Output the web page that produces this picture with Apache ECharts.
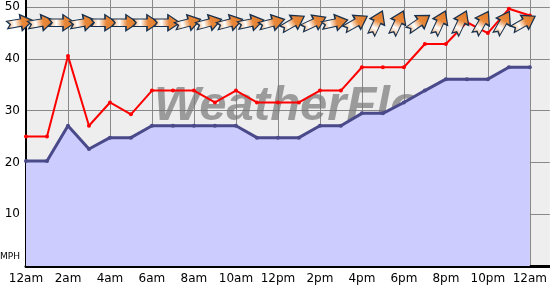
<!DOCTYPE html>
<html>
<head>
<meta charset="utf-8">
<script src="https://cdn.jsdelivr.net/npm/echarts@6/dist/echarts.min.js"></script>
<style>
html,body{margin:0;padding:0;background:#fff;}
#chart{width:550px;height:285px;}
</style>
</head>
<body>
<div id="chart"></div>
<script>
// ---- data ----
var hours = [0,1,2,3,4,5,6,7,8,9,10,11,12,13,14,15,16,17,18,19,20,21,22,23,24];
var tickLabels = ['12am','2am','4am','6am','8am','10am','12pm','2pm','4pm','6pm','8pm','10pm','12am'];
var yTickLabels = ['MPH','10','20','30','40','50'];
var avgWind = [20.3,20.3,27.1,22.6,24.8,24.8,27.1,27.1,27.1,27.1,27.1,24.8,24.8,24.8,27.1,27.1,29.5,29.5,31.6,33.9,36.1,36.1,36.1,38.4,38.4];
var gustWind = [25.0,25.0,40.6,27.1,31.6,29.3,33.9,33.9,33.9,31.6,33.9,31.6,31.6,31.6,33.9,33.9,38.4,38.4,38.4,42.9,42.9,47.1,45.0,49.7,48.4];
var windDir = [260,260,270,260,270,270,270,270,255,255,255,258,255,240,245,258,240,205,205,235,205,205,210,210,240];

var chart = echarts.init(document.getElementById('chart'), null, {renderer:'canvas'});
var ARROW_ROW = 47;
var arrowPath = 'path://M0,16 L54,16 L54,0 L100,30 L54,60 L54,44 L0,44 L12,30 Z';

function pairs(vals){ return hours.map(function(h,i){ return [h, vals[i]]; }); }

var option = {
  animation: false,
  backgroundColor: '#ffffff',
  grid: {left: 26, right: 0, top: 0, bottom: 19, show: true, backgroundColor: '#eeeeee', borderWidth: 0},
  xAxis: {
    type: 'value', min: 0, max: 24.95, interval: 2,
    axisLine: {show: true, onZero: false, lineStyle: {color: '#000', width: 3}},
    axisTick: {show: false},
    axisLabel: {
      color: '#000', fontSize: 12, fontFamily: 'DejaVu Sans', margin: 7,
      showMaxLabel: false,
      formatter: function(v){ return (v % 2 === 0) ? tickLabels[v/2] : ''; }
    },
    splitLine: {show: true, showMaxLine: false, lineStyle: {color: '#888888', width: 1}}
  },
  yAxis: {
    type: 'value', min: 0, max: 51.4, interval: 10,
    axisLine: {show: true, lineStyle: {color: '#000', width: 2}},
    axisTick: {show: false},
    axisLabel: {
      color: '#000', fontSize: 12, fontFamily: 'DejaVu Sans', margin: 6,
      showMaxLabel: false,
      formatter: function(v){ return (v % 10 === 0 && v > 0) ? yTickLabels[v/10] : ''; }
    },
    splitLine: {show: true, showMaxLine: false, lineStyle: {color: '#888888', width: 1}}
  },
  graphic: [
    {type: 'text', left: 154, top: 82, z: 1, silent: true,
     style: {text: 'WeatherFlow', font: 'italic bold 49px "Liberation Sans"', fill: 'rgba(120,120,120,0.7)'}},
    {type: 'text', left: 0, top: 252, z: 5, silent: true,
     style: {text: yTickLabels[0], font: '9px "DejaVu Sans"', fill: '#000'}}
  ],
  series: [
    {
      type: 'line', data: pairs(avgWind), z: 3,
      symbol: 'circle', symbolSize: 4, showSymbol: true,
      lineStyle: {color: '#4a4a8a', width: 3},
      itemStyle: {color: '#4a4a8a'},
      areaStyle: {color: '#ccccff', opacity: 1}
    },
    {
      type: 'line', data: pairs(gustWind), z: 4,
      symbol: 'circle', symbolSize: 4, showSymbol: true,
      lineStyle: {color: '#ff0000', width: 2},
      itemStyle: {color: '#ff0000'}
    },
    {
      type: 'scatter', z: 6,
      data: hours.map(function(h,i){ return {value: [h, ARROW_ROW], symbolRotate: 270 - windDir[i]}; }),
      symbol: arrowPath, symbolSize: [26, 16], symbolOffset: [-6, 0],
      itemStyle: {
        opacity: 1,
        color: new echarts.graphic.LinearGradient(0,0,1,0,[
          {offset:0, color:'#eda364'},{offset:0.3, color:'#ffffff'},
          {offset:0.58, color:'#e8883a'},{offset:1, color:'#e07a28'}]),
        borderColor: '#16304d', borderWidth: 1.3
      }
    }
  ]
};
chart.setOption(option);
</script>
</body>
</html>
